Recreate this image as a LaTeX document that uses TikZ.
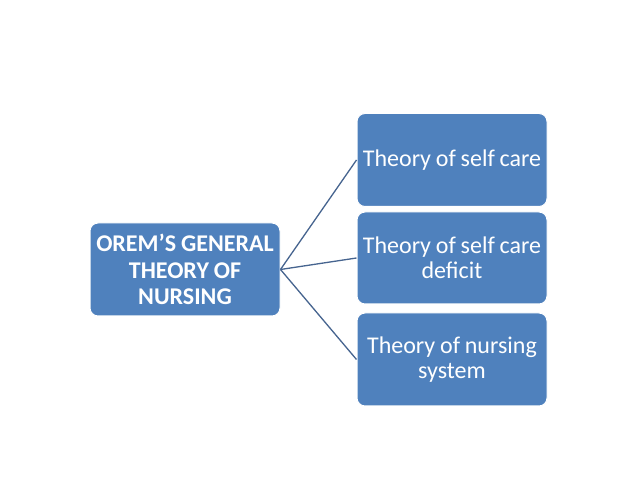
\documentclass[tikz,border=0pt]{standalone}
\usepackage{fontspec}
\setmainfont{Carlito}
\definecolor{boxblue}{HTML}{4F81BD}
\definecolor{linkblue}{HTML}{46648F}
\newcommand{\tightsp}{\spaceskip=0.2em plus 0.05em\relax}
\begin{document}
\begin{tikzpicture}[x=1pt,y=1pt,
  box/.style={rectangle, rounded corners=8pt, fill=boxblue, draw=white, line width=1pt,
    minimum width=190pt, minimum height=93pt, align=center,
    text=white, font=\fontsize{24}{25.5}\selectfont\tightsp, inner sep=0pt},
  mainbox/.style={box, font=\fontsize{24}{26.5}\selectfont\bfseries\tightsp},
  link/.style={draw=linkblue, line width=1.3pt}]
\fill[white] (0,0) rectangle (638,479);
\useasboundingbox (0,0) rectangle (638,479);
\node[mainbox] (orem) at (185,209.5) {OREM’S GENERAL\\THEORY OF\\NURSING};
\node[box] (self) at (452,319) {Theory of self care};
\node[box, minimum height=92pt] (deficit) at (452,221) {Theory of self care\\deficit};
\node[box] (system) at (452,119.5) {Theory of nursing\\system};
\draw[link] (orem.east) -- (self.west);
\draw[link] (orem.east) -- (deficit.west);
\draw[link] (orem.east) -- (system.west);
\end{tikzpicture}
\end{document}
